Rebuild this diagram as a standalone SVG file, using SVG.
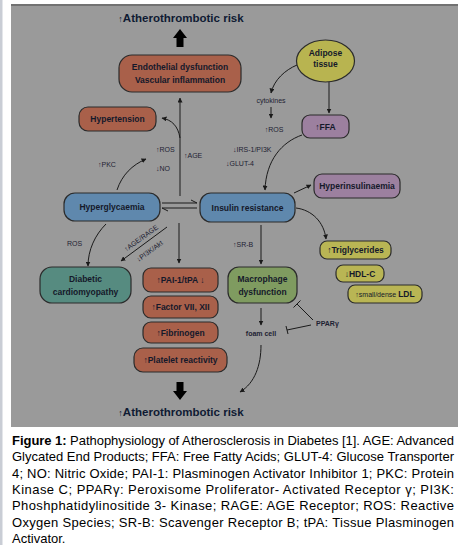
<svg xmlns="http://www.w3.org/2000/svg" width="458" height="545" viewBox="0 0 458 545">
<defs>
<style>
.box{stroke:#2b2b2b;stroke-width:1.2}
.brown{fill:#a9604a}
.blue{fill:#5f88ad}
.teal{fill:#568b80}
.green{fill:#7f9b60}
.yellow{fill:#b9b554}
.purple{fill:#9c809f}
.bt{font-family:"Liberation Sans",Arial,sans-serif;font-weight:bold;font-size:8.5px;fill:#15192a;text-anchor:middle}
.lb{font-family:"Liberation Sans",Arial,sans-serif;font-size:7px;fill:#1e2233}
.title{font-family:"Liberation Sans",Arial,sans-serif;font-weight:bold;font-size:11.5px;fill:#0f1a33;text-anchor:middle}
.cap{font-family:"Liberation Sans",Arial,sans-serif;font-size:13px;fill:#000}
.ln{fill:none;stroke:#1a1a1a;stroke-width:1}
</style>
<marker id="ah" viewBox="0 0 10 10" refX="9" refY="5" markerWidth="5" markerHeight="5" markerUnits="userSpaceOnUse" orient="auto">
<path d="M0,0 L10,5 L0,10 z" fill="#1a1a1a"/>
</marker>
</defs>

<rect x="0" y="0" width="458" height="545" fill="#ffffff"/>
<rect x="0" y="0" width="2.5" height="545" fill="#c9cdd5"/>
<rect x="11" y="4" width="447" height="423" fill="#9a9a9a"/>
<rect x="11" y="4" width="447" height="2" fill="#727272"/>

<g id="title-top">
<text class="title" x="181" y="22"><tspan font-weight="normal" font-size="9">↑</tspan>Atherothrombotic risk</text>
<polygon points="180,29 187,38 183.5,38 183.5,47 176.5,47 176.5,38 173,38" fill="#000"/>
</g>

<g id="title-bottom">
<polygon points="180,400 187,391 183.5,391 183.5,382 176.5,382 176.5,391 173,391" fill="#000"/>
<text class="title" x="181" y="416"><tspan font-weight="normal" font-size="9">↑</tspan>Atherothrombotic risk</text>
</g>

<g id="connectors">
<path class="ln" d="M180,196 L180,98" marker-end="url(#ah)"/>
<path class="ln" d="M180,138 C178,126 172,120 162,118" marker-end="url(#ah)"/>
<path class="ln" d="M117,190 C122,175 132,165 146,159" marker-end="url(#ah)"/>
<path class="ln" d="M162,203 L197,203 L191,200"/>
<path class="ln" d="M197,208 L162,208 L168,211"/>
<path class="ln" d="M297,65 C285,70 274,80 271,93" marker-end="url(#ah)"/>
<path class="ln" d="M271,107 L271,118" marker-end="url(#ah)"/>
<path class="ln" d="M329,82 L329,113" marker-end="url(#ah)"/>
<path class="ln" d="M302,135 C282,142 266,160 265,190" marker-end="url(#ah)"/>
<path class="ln" d="M294,193 L311,185" marker-end="url(#ah)"/>
<path class="ln" d="M296,208 C312,210 324,222 326,239" marker-end="url(#ah)"/>
<path class="ln" d="M261,225 L261,264" marker-end="url(#ah)"/>
<path class="ln" d="M261,308 L261,325" marker-end="url(#ah)"/>
<path class="ln" d="M313,320 L297,304 M300.5,300.5 L293.5,307.5"/>
<path class="ln" d="M311,325 L287,330 M286,326 L288,334"/>
<path class="ln" d="M261,345 C261,365 255,383 240,392" marker-end="url(#ah)"/>
<path class="ln" d="M106,224 C95,235 88,250 88,266" marker-end="url(#ah)"/>
<path class="ln" d="M167,227 L121,261" marker-end="url(#ah)"/>
<path class="ln" d="M179,223 L179,263" marker-end="url(#ah)"/>
</g>

<g id="labels">
<text class="lb" x="156" y="152">↑ROS</text>
<text class="lb" x="156" y="171">↓NO</text>
<text class="lb" x="184" y="158">↑AGE</text>
<text class="lb" x="98" y="167">↑PKC</text>
<text class="lb" x="67" y="246">ROS</text>
<text class="lb" x="233" y="247">↑SR-B</text>
<text class="lb" x="271" y="103" text-anchor="middle" font-size="6">cytokines</text>
<text class="lb" x="274" y="132" text-anchor="middle">↑ROS</text>
<text class="lb" x="233" y="152">↓IRS-1/PI3K</text>
<text class="lb" x="226" y="166">↓GLUT-4</text>
<text class="lb" x="0" y="0" text-anchor="middle" font-size="6.5" transform="translate(142.5,240) rotate(-36)">↑AGE/RAGE</text>
<text class="lb" x="0" y="0" text-anchor="middle" font-size="6.5" transform="translate(151,253) rotate(-36)">↓PI3K/Akt</text>
<text class="lb" x="261" y="336" text-anchor="middle" font-weight="bold" font-size="7">foam cell</text>
<text class="lb" x="316" y="326" font-weight="bold" font-size="7.5">PPARγ</text>
</g>

<g id="endothelial">
<rect class="box brown" x="119" y="55" width="122" height="37" rx="13"/>
<text class="bt" x="180" y="70">Endothelial dysfunction</text>
<text class="bt" x="180" y="83">Vascular inflammation</text>
</g>

<g id="hypertension">
<rect class="box brown" x="79" y="107" width="77" height="24" rx="9"/>
<text class="bt" x="117.5" y="122">Hypertension</text>
</g>

<g id="adipose">
<ellipse class="box" cx="325.5" cy="61" rx="29" ry="21" fill="#b8b450"/>
<text class="bt" x="325.5" y="56" font-size="7.5">Adipose</text>
<text class="bt" x="325.5" y="67" font-size="7.5">tissue</text>
</g>

<g id="ffa">
<rect class="box purple" x="302" y="115" width="47" height="23" rx="8"/>
<text class="bt" x="325.5" y="130"><tspan font-weight="normal">↑</tspan>FFA</text>
</g>

<g id="hyperglycaemia">
<rect class="box blue" x="64" y="193" width="96" height="28" rx="11"/>
<text class="bt" x="112" y="210">Hyperglycaemia</text>
</g>

<g id="insulin">
<rect class="box blue" x="200" y="193" width="95" height="29" rx="11"/>
<text class="bt" x="247.5" y="210.5">Insulin resistance</text>
</g>

<g id="hyperinsulinaemia">
<rect class="box purple" x="314" y="174" width="86" height="24" rx="8"/>
<text class="bt" x="357" y="189">Hyperinsulinaemia</text>
</g>

<g id="triglycerides">
<rect class="box yellow" x="320" y="241" width="71" height="18" rx="7"/>
<text class="bt" x="355.5" y="253"><tspan font-weight="normal">↑</tspan>Triglycerides</text>
</g>

<g id="hdl">
<rect class="box yellow" x="336" y="265" width="48" height="17" rx="7"/>
<text class="bt" x="360" y="277"><tspan font-weight="normal">↓</tspan>HDL-C</text>
</g>

<g id="ldl">
<rect class="box yellow" x="348" y="285" width="74" height="18" rx="7"/>
<text class="bt" x="385" y="297"><tspan font-weight="normal" font-size="7">↑small/dense </tspan>LDL</text>
</g>

<g id="macrophage">
<rect class="box green" x="228" y="267" width="69" height="36" rx="11"/>
<text class="bt" x="262.5" y="282">Macrophage</text>
<text class="bt" x="262.5" y="295">dysfunction</text>
</g>

<g id="cardiomyopathy">
<rect class="box teal" x="40" y="267" width="91" height="36" rx="12"/>
<text class="bt" x="85.5" y="282">Diabetic</text>
<text class="bt" x="85.5" y="295">cardiomyopathy</text>
</g>

<g id="pai">
<rect class="box brown" x="143" y="268" width="75" height="24" rx="8"/>
<text class="bt" x="180.5" y="283"><tspan font-weight="normal">↑</tspan>PAI-1/tPA <tspan font-weight="normal">↓</tspan></text>
</g>

<g id="factor">
<rect class="box brown" x="143" y="296" width="75" height="22" rx="8"/>
<text class="bt" x="180.5" y="310"><tspan font-weight="normal">↑</tspan>Factor VII, XII</text>
</g>

<g id="fibrinogen">
<rect class="box brown" x="143" y="322" width="75" height="21" rx="8"/>
<text class="bt" x="180.5" y="336"><tspan font-weight="normal">↑</tspan>Fibrinogen</text>
</g>

<g id="platelet">
<rect class="box brown" x="134" y="348" width="93" height="24" rx="9"/>
<text class="bt" x="180.5" y="363"><tspan font-weight="normal">↑</tspan>Platelet reactivity</text>
</g>

<g id="caption">
<text class="cap" x="12" y="445" textLength="442" lengthAdjust="spacing"><tspan font-weight="bold">Figure 1:</tspan> Pathophysiology of Atherosclerosis in Diabetes [1]. AGE: Advanced</text>
<text class="cap" x="12" y="461.3" textLength="442" lengthAdjust="spacing">Glycated End Products; FFA: Free Fatty Acids; GLUT-4: Glucose Transporter</text>
<text class="cap" x="12" y="477.6" textLength="442" lengthAdjust="spacing">4; NO: Nitric Oxide; PAI-1: Plasminogen Activator Inhibitor 1; PKC: Protein</text>
<text class="cap" x="12" y="493.9" textLength="442" lengthAdjust="spacing">Kinase C; PPARγ: Peroxisome Proliferator- Activated Receptor γ; PI3K:</text>
<text class="cap" x="12" y="510.2" textLength="442" lengthAdjust="spacing">Phoshphatidylinositide 3- Kinase; RAGE: AGE Receptor; ROS: Reactive</text>
<text class="cap" x="12" y="526.5" textLength="442" lengthAdjust="spacing">Oxygen Species; SR-B: Scavenger Receptor B; tPA: Tissue Plasminogen</text>
<text class="cap" x="12" y="542.5">Activator.</text>
</g>
</svg>
